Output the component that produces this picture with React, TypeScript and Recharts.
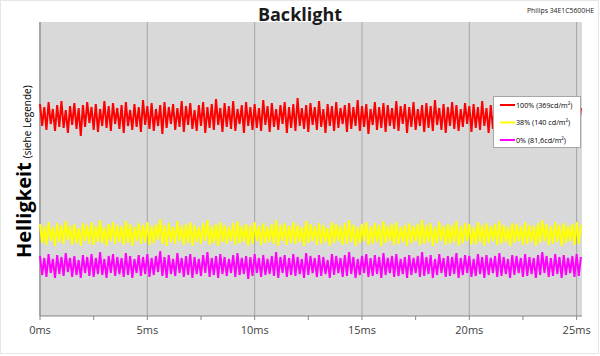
import React from 'react';
import { LineChart, Line, XAxis, YAxis, CartesianGrid, ReferenceLine } from 'recharts';

// Brightness samples (arbitrary units) taken every 0.1 ms
const SAMPLE_MS = 0.1;

const red100: number[] = [
  212,190,209,186,214,192,207,185,211,189,215,188,206,183,210,191,213,187,208,180,
  211,189,214,193,209,186,212,184,207,190,215,188,210,185,213,192,208,187,211,183,
  214,190,206,186,212,189,209,184,216,191,210,187,213,185,207,190,211,182,214,188,
  209,192,212,186,208,189,215,184,210,191,213,187,206,185,211,190,214,183,209,188,
  212,186,217,191,208,184,213,189,210,187,215,185,207,192,211,183,214,190,209,186,
  212,188,208,185,216,191,210,184,213,189,207,186,211,192,214,183,209,188,212,185,
  218,190,208,187,211,184,213,191,209,186,215,189,207,183,212,190,210,185,214,188,
  208,192,211,184,213,187,209,190,216,185,210,189,212,182,207,191,214,186,209,188,
  213,184,211,190,208,187,215,185,210,192,212,183,209,189,214,186,207,190,211,184,
  213,188,210,185,216,191,208,186,212,183,209,190,214,187,211,185,207,189,213,192,
  210,184,212,188,209,186,215,190,208,183,211,187,214,185,210,191,212,184,209,188,
  213,186,211,190,208,185,214,187,210,183,212,189,209,186,215,184,211,190,208,187,
  212,185,210,188,213,186,209,190,211,184,214,187,208,
];

const yellow38: number[] = [
  92,73,90,71,94,75,89,70,93,74,91,72,95,76,90,71,92,73,88,70,
  93,75,91,72,94,71,90,74,96,73,89,70,92,75,94,72,91,74,90,71,
  95,73,92,70,89,75,93,72,91,74,94,71,90,73,92,76,97,72,91,70,
  93,74,89,72,95,75,90,71,92,73,94,70,91,74,89,72,93,75,96,71,
  90,73,92,70,94,74,91,72,89,75,93,71,95,73,90,74,92,70,91,72,
  94,75,90,71,93,73,89,74,92,72,96,70,91,75,93,71,90,73,94,72,
  91,74,89,70,95,73,92,75,90,71,93,72,91,74,88,70,94,73,92,75,
  90,71,93,72,96,74,91,70,89,73,92,75,94,71,90,72,93,74,91,70,
  95,73,90,75,92,71,94,72,89,74,91,70,93,73,90,75,92,71,96,72,
  91,74,93,70,89,73,94,75,90,71,92,72,91,74,95,70,90,73,93,75,
  92,71,89,72,94,74,91,70,93,73,90,75,92,71,95,72,91,74,89,70,
  93,73,92,75,90,71,94,72,91,74,90,70,93,73,96,75,92,71,90,72,
  94,74,91,70,93,73,90,75,92,71,94,72,91,
];

const magenta0: number[] = [
  60,41,58,39,62,43,57,38,61,42,59,40,63,44,58,39,60,41,56,38,
  61,43,59,40,62,39,58,42,64,41,57,38,60,43,62,40,59,42,58,39,
  63,41,60,38,57,43,61,40,59,42,62,39,58,41,60,44,65,40,59,38,
  61,42,57,40,63,43,58,39,60,41,62,38,59,42,57,40,61,43,64,39,
  58,41,60,38,62,42,59,40,57,43,61,39,63,41,58,42,60,37,59,40,
  62,43,58,39,61,41,57,42,60,40,64,38,59,43,61,39,58,41,62,40,
  59,42,57,38,63,41,60,43,58,39,61,40,59,42,56,38,62,41,60,43,
  58,39,61,40,64,42,59,38,57,41,60,43,62,39,58,40,61,42,59,38,
  63,41,58,43,60,39,62,40,57,42,59,38,61,41,58,43,60,39,64,40,
  59,42,61,38,57,41,62,43,58,39,60,40,59,42,63,38,58,41,61,43,
  60,39,57,40,62,42,59,38,61,41,58,43,60,39,63,40,59,42,57,38,
  61,41,60,43,58,39,62,40,59,42,58,38,61,41,64,43,60,39,58,40,
  62,42,59,38,61,41,58,43,60,39,62,40,59,
];

const seriesNames = ['100% (369cd/m²)', '38% (140 cd/m²)', '0% (81,6cd/m²)'];
const seriesColors = ['#ff0000', '#ffff00', '#ff00ff'];
const xTicks = [0, 2.5, 5, 7.5, 10, 12.5, 15, 17.5, 20, 22.5, 25];
const gridTicks = [0, 5, 10, 15, 20, 25];

const data = red100.map((v, i) => ({
  t: Math.round(i * SAMPLE_MS * 100) / 100,
  a: v,
  b: yellow38[i],
  c: magenta0[i],
}));

const FONT = '"Open Sans", Calibri, sans-serif';

const Tick = (props: any) => {
  const { x, y, payload } = props;
  if (payload.value % 5 !== 0) return <g />;
  return (
    <text x={x} y={y} dy="0.71em" textAnchor="middle" fontSize={11} fontFamily={FONT} fill="#404040">
      {payload.value}ms
    </text>
  );
};

export default function App() {
  return (
    <div style={{ position: 'absolute', left: 0, top: 0, width: 600, height: 356, background: '#fff' }}>
      <LineChart
        width={600}
        height={356}
        data={data}
        margin={{ top: 22, right: 18, left: 40, bottom: 0 }}
      >
        <CartesianGrid fill="#d9d9d9" horizontal={false} vertical={false} />
        <XAxis
          dataKey="t"
          type="number"
          domain={[0, 25.25]}
          ticks={xTicks}
          interval={0}
          height={40}
          tick={<Tick />}
          tickSize={4}
          tickMargin={6}
          axisLine={{ stroke: '#868686' }}
          tickLine={{ stroke: '#868686' }}
        />
        <YAxis hide domain={[0, 294]} type="number" />
        {gridTicks.map((g) => (
          <ReferenceLine key={g} x={g} stroke="#a6a6a6" strokeWidth={g === 0 ? 2 : 1} />
        ))}
        <Line dataKey="a" name={seriesNames[0]} stroke={seriesColors[0]} strokeWidth={2} dot={false} isAnimationActive={false} />
        <Line dataKey="b" name={seriesNames[1]} stroke={seriesColors[1]} strokeWidth={2} dot={false} isAnimationActive={false} />
        <Line dataKey="c" name={seriesNames[2]} stroke={seriesColors[2]} strokeWidth={2} dot={false} isAnimationActive={false} />
      </LineChart>
      <svg width={600} height={356} style={{ position: 'absolute', left: 0, top: 0, pointerEvents: 'none' }}>
        <rect x={0.5} y={0.5} width={598} height={353} fill="none" stroke="#e6e6e6" />
        <text x={300} y={21} textAnchor="middle" fontFamily={FONT} fontWeight={700} fontSize={18} fill="#1a1a1a">
          Backlight
        </text>
        <text x={594} y={13} textAnchor="end" fontFamily={FONT} fontSize={7.5} fill="#1a1a1a" textLength={67} lengthAdjust="spacingAndGlyphs">
          Philips 34E1C5600HE
        </text>
        <text transform="translate(31,258) rotate(-90)" fontFamily={FONT} fill="#000">
          <tspan fontSize={20} fontWeight={700}>Helligkeit</tspan>
          <tspan fontSize={10} dx={4}>(siehe Legende)</tspan>
        </text>
        <g>
          <rect x={493.5} y={96.5} width={87} height={51} fill="#ffffff" stroke="#a6a6a6" />
          {seriesNames.map((name, i) => (
            <g key={name}>
              <line x1={500} x2={515} y1={105 + i * 17.5} y2={105 + i * 17.5} stroke={seriesColors[i]} strokeWidth={2} />
              <text x={516} y={105 + i * 17.5 + 2.5} fontFamily={FONT} fontSize={7.2} fill="#000">
                {name}
              </text>
            </g>
          ))}
        </g>
      </svg>
    </div>
  );
}
